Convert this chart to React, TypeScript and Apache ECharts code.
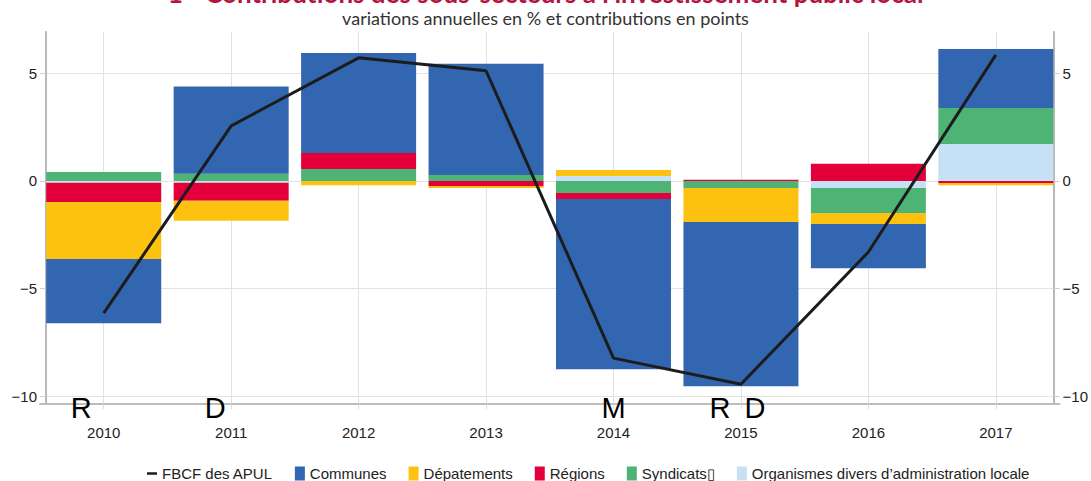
import React, { useEffect, useRef } from "react";
import * as echarts from "echarts";

const years = ["2010", "2011", "2012", "2013", "2014", "2015", "2016", "2017"];
const fbcf = [-6.14, 2.56, 5.72, 5.12, -8.23, -9.44, -3.3, 5.86];
const communes = [-2.98, 4.06, 4.65, 5.16, -7.9, -7.63, -2.05, 2.74];
const departements = [-2.65, -0.93, -0.2, -0.1, 0.28, -1.58, -0.51, -0.11];
const regions = [-0.9, -0.84, 0.74, -0.23, -0.28, 0.06, 0.8, -0.09];
const syndicats = [0.42, 0.33, 0.56, 0.28, -0.56, -0.33, -1.16, 1.67];
const organismes = [-0.08, -0.08, 0, 0, 0.23, 0, -0.33, 1.72];
const yTicks = [-10, -5, 0, 5];
const electionLetters = ["R", "D", "M", "R", "D"];
const electionDates = [-0.176, 0.875, 4.0, 4.836, 5.11];

const FONT = "'Liberation Sans', Arial, sans-serif";

export default function App() {
  const ref = useRef<HTMLDivElement>(null);
  useEffect(() => {
    if (!ref.current) return;
    const chart = echarts.init(ref.current, undefined, { renderer: "svg" });
    const centers = years.map((_, i) => i);
    const barSeries = (name: string, data: number[], color: string) => ({
      name,
      type: "bar",
      stack: "total",
      barWidth: 115,
      data,
      itemStyle: { color },
      z: 2,
    });
    const yAxisBase = (position: "left" | "right") => ({
      type: "value",
      position,
      offset: -6,
      min: -10.36,
      max: 6.92,
      splitNumber: 4,
      axisLine: { show: true, onZero: false, lineStyle: { color: "#b8b8b8", width: 2 } },
      axisTick: { show: true, customValues: yTicks, length: 6, lineStyle: { color: "#cfcfcf" } },
      axisLabel: {
        customValues: yTicks,
        formatter: (v: number) => String(v).replace("-", "\u2212"),
        fontSize: 15,
        color: "#222",
        fontFamily: FONT,
        margin: 9,
      },
      splitLine: { show: position === "left", lineStyle: { color: "#e2e2e2", width: 1 } },
    });
    const legendNames = [
      "FBCF des APUL",
      "Communes",
      "Dépatements",
      "Régions",
      "Syndicats\u25AF",
      "Organismes divers d’administration locale",
    ];
    const option = {
      animation: false,
      title: [
        {
          text: "1 - Contributions des sous-secteurs à l’investissement public local",
          left: "center",
          top: -6,
          padding: 0,
          textStyle: { color: "#b3153f", fontSize: 26, fontWeight: "bold", fontFamily: "Lato", lineHeight: 26 },
        },
        {
          text: "variations annuelles en % et contributions en points",
          left: "center",
          top: 22,
          padding: 0,
          textStyle: { color: "#333", fontSize: 18, fontWeight: "normal", fontFamily: "Lato", lineHeight: 20 },
        },
      ],
      grid: { left: 40, right: 27, top: 46, bottom: 77 },
      legend: {
        left: 142,
        top: 475,
        itemWidth: 10,
        itemHeight: 14,
        itemGap: 22,
        textStyle: { fontSize: 15, color: "#222", fontFamily: FONT },
        data: legendNames.map((n, i) =>
          i === 0 ? { name: n, icon: "path://M0,0 L12,0 L12,3 L0,3 Z" } : { name: n, icon: "rect" }
        ),
      },
      xAxis: [
        {
          type: "category",
          data: years,
          boundaryGap: true,
          axisLine: { show: true, onZero: false, lineStyle: { color: "#bdbdbd", width: 2 } },
          axisTick: { show: true, alignWithLabel: true, length: 5, lineStyle: { color: "#dcdcdc" } },
          axisLabel: { fontSize: 15, color: "#222", fontFamily: FONT, margin: 21 },
          splitLine: { show: false },
        },
        {
          type: "value",
          min: -0.5,
          max: 7.5,
          position: "top",
          axisLine: { show: false, onZero: false },
          axisTick: { show: false, customValues: centers },
          axisLabel: { show: false, customValues: centers },
          splitLine: { show: true, lineStyle: { color: "#e2e2e2", width: 1 } },
        },
      ],
      yAxis: [yAxisBase("left"), yAxisBase("right")],
      series: [
        barSeries("Organismes divers d’administration locale", organismes, "#c6e0f5"),
        barSeries("Syndicats\u25AF", syndicats, "#4db476"),
        barSeries("Régions", regions, "#e3003a"),
        barSeries("Dépatements", departements, "#fdc20f"),
        barSeries("Communes", communes, "#3366b0"),
        {
          name: "FBCF des APUL",
          type: "line",
          data: fbcf,
          showSymbol: false,
          symbol: "none",
          lineStyle: { color: "#1c1c1c", width: 3 },
          itemStyle: { color: "#1c1c1c" },
          z: 5,
        },
        {
          type: "scatter",
          xAxisIndex: 1,
          silent: true,
          clip: false,
          symbolSize: 1,
          itemStyle: { color: "rgba(0,0,0,0)" },
          data: electionLetters.map((l, i) => ({ value: [electionDates[i], -10.54], name: l })),
          label: {
            show: true,
            position: "inside",
            formatter: (p: any) => p.name,
            fontSize: 29,
            color: "#000",
            opacity: 1,
            fontFamily: FONT,
          },
          z: 10,
        },
      ],
    };
    chart.setOption(option as any);
    return () => chart.dispose();
  }, []);
  return (
    <div
      ref={ref}
      style={{ position: "absolute", left: 0, top: -14, width: 1091, height: 495 }}
    />
  );
}
